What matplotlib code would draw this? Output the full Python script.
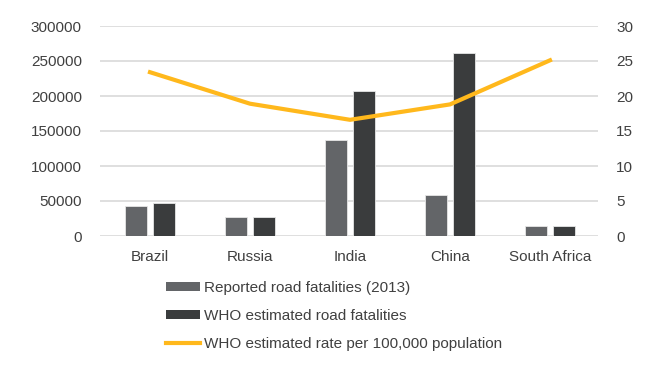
import matplotlib.pyplot as plt
import numpy as np
from matplotlib.patches import Patch
from matplotlib.lines import Line2D

plt.rcParams['font.family'] = ['Liberation Sans', 'DejaVu Sans']
plt.rcParams['font.size'] = 11

countries = ['Brazil', 'Russia', 'India', 'China', 'South Africa']
reported = [42291, 27025, 137572, 58539, 14000]
who_estimated = [46935, 27025, 207551, 261367, 13600]
rate = [23.4, 18.9, 16.6, 18.8, 25.1]

c_rep = '#636568'
c_who = '#3a3c3d'
c_line = '#ffb81c'
c_text = '#404040'

fig = plt.figure(figsize=(6.46, 3.65), dpi=100)
ax = fig.add_axes([100/646, 1 - 236/365, 498/646, 210/365])

x = np.arange(len(countries))
w = 0.22
ax.bar(x - 0.14, reported, w, color=c_rep, edgecolor='#e6e6e6', linewidth=0.6, zorder=3)
ax.bar(x + 0.14, who_estimated, w, color=c_who, edgecolor='#e6e6e6', linewidth=0.6, zorder=3)

ax.set_xlim(-0.5, 4.48)
ax.set_ylim(0, 300000)
ax.set_yticks(np.arange(0, 300001, 50000))
ax.set_xticks(x)
ax.set_xticklabels(countries)
ax.yaxis.grid(True, color='#d9d9d9', linewidth=1.2, zorder=0)
ax.set_axisbelow(True)
for s in ax.spines.values():
    s.set_visible(False)
ax.tick_params(length=0, colors=c_text, labelsize=11)
ax.tick_params(axis='y', pad=13)
ax.tick_params(axis='x', pad=10)

ax2 = ax.twinx()
ax2.plot(x, rate, color=c_line, linewidth=3, zorder=4)
ax2.set_ylim(0, 30)
ax2.set_yticks(np.arange(0, 31, 5))
for s in ax2.spines.values():
    s.set_visible(False)
ax2.tick_params(length=0, colors=c_text, labelsize=11, pad=13)

handles = [Patch(facecolor=c_rep), Patch(facecolor=c_who),
           Line2D([], [], color=c_line, linewidth=3)]
labels = ['Reported road fatalities (2013)', 'WHO estimated road fatalities',
          'WHO estimated rate per 100,000 population']
fig.legend(handles, labels, loc='upper left', bbox_to_anchor=(160/646, 1 - 275/365),
           frameon=False, handlelength=2.2, handleheight=0.5, handletextpad=0.3,
           labelspacing=0.9, labelcolor=c_text, fontsize=11, borderaxespad=0)

fig.savefig('out.png', dpi=100, facecolor='white')
